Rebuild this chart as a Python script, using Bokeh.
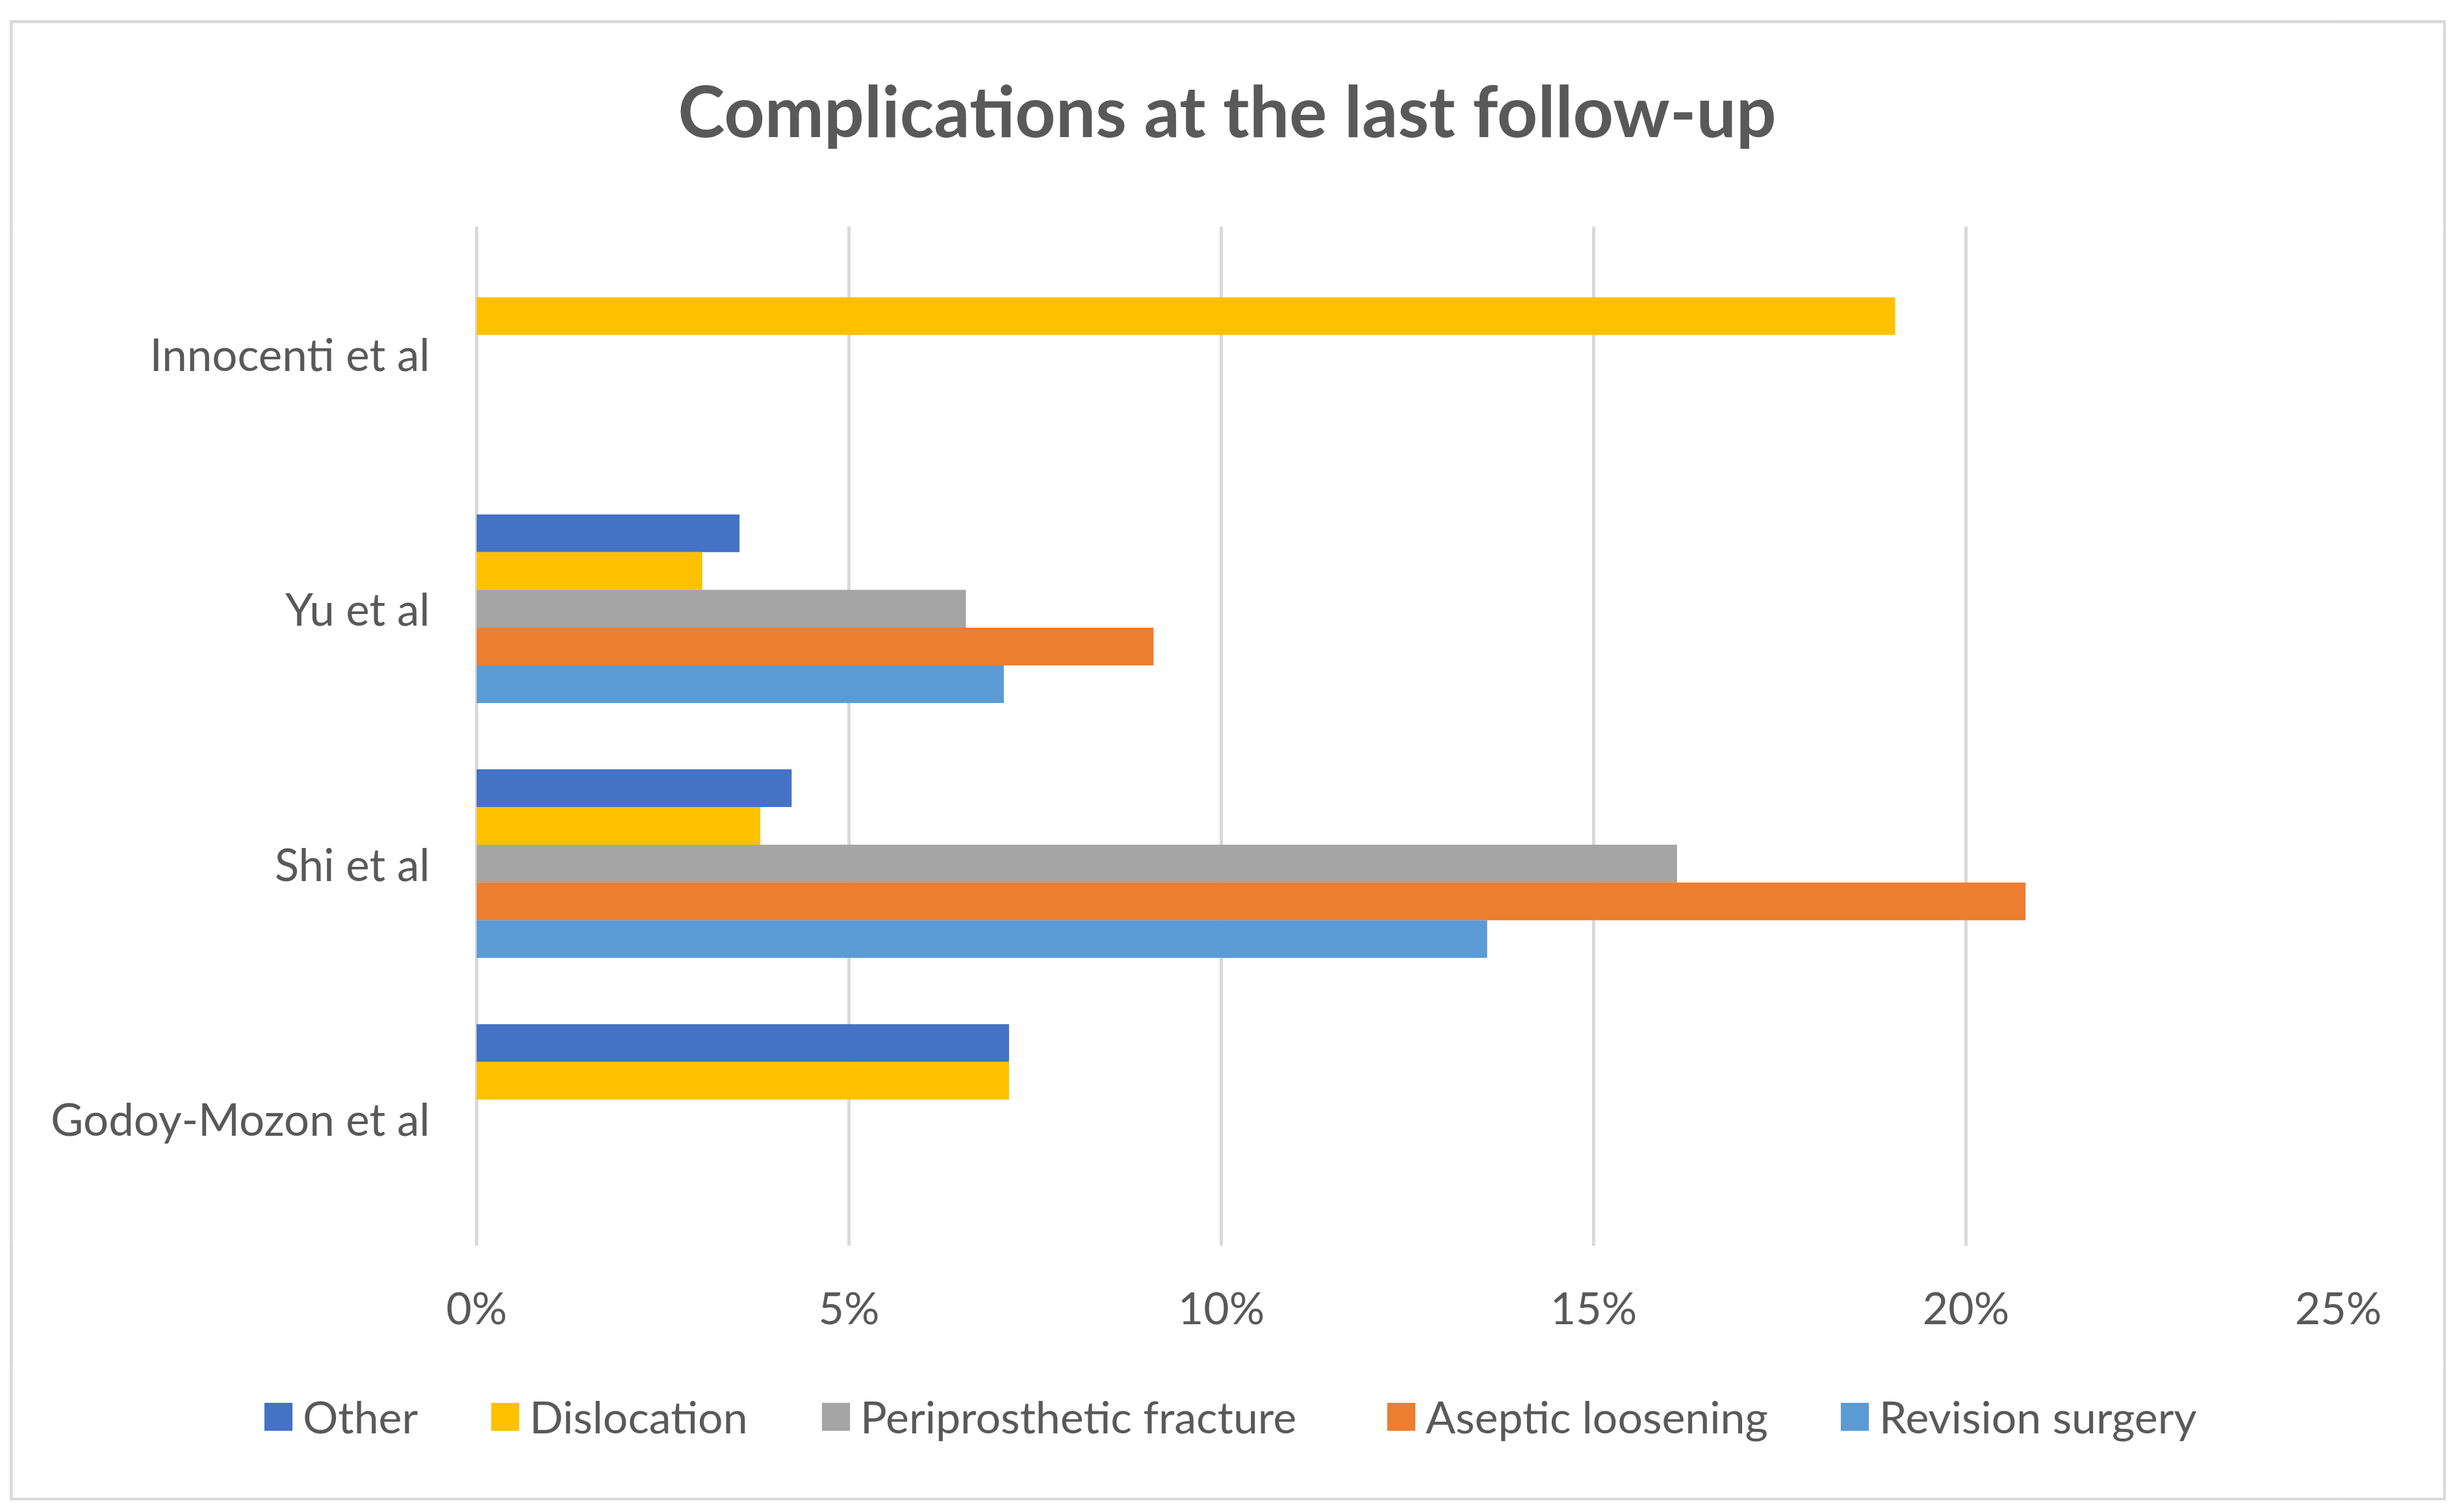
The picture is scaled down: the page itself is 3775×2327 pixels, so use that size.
from bokeh.plotting import figure
from bokeh.layouts import column
from bokeh.models import (Range1d, FactorRange, FixedTicker, NumeralTickFormatter,
                          Legend, LegendItem, Label)
from bokeh.transform import dodge
from bokeh.core.properties import value
from bokeh.embed import file_html
from bokeh.resources import INLINE

# ---- data ----
studies = ["Godoy-Mozon et al", "Shi et al", "Yu et al", "Innocenti et al"]
series = ["Other", "Dislocation", "Periprosthetic fracture", "Aseptic loosening", "Revision surgery"]
other = [0.0715, 0.0423, 0.0353, 0.0]
dislocation = [0.0715, 0.0381, 0.0303, 0.1905]
periprosthetic = [0.0, 0.1612, 0.0657, 0.0]
aseptic = [0.0, 0.2080, 0.0909, 0.0]
revision = [0.0, 0.1357, 0.0708, 0.0]
x_ticks = [0.0, 0.05, 0.10, 0.15, 0.20, 0.25]
title_text = "Complications at the last follow-up"

# ---- styles / layout ----
colors = ["#4472C4", "#FFC000", "#A5A5A5", "#ED7D31", "#5B9BD5"]
offsets = [0.296, 0.148, 0.0, -0.148, -0.296]
legend_x = [382, 731, 1240, 2110, 2808]
bar_h = 0.148
FONT = "Lato"
TXT = "#595959"
GRID = "#D9D9D9"

W = 3741
H0, H1, H2 = 313, 1749, 208
PLOT_L, FR, FRAME_H = 714, 3579, 1569   # 0% line, frame right, frame height
RB = W - FR
X_MAX = 0.25
x_start = -PLOT_L * X_MAX / (FR - PLOT_L)

data = dict(study=studies, other=other, dislocation=dislocation,
            periprosthetic=periprosthetic, aseptic=aseptic, revision=revision)
cols = ["other", "dislocation", "periprosthetic", "aseptic", "revision"]


def strip(height):
    f = figure(width=W, height=height, x_range=Range1d(x_start, X_MAX),
               y_range=FactorRange(factors=studies, range_padding=0),
               output_backend="svg", toolbar_location=None, title=None,
               x_axis_location=None, y_axis_location=None,
               min_border_left=0, min_border_right=RB,
               min_border_top=0, min_border_bottom=0)
    f.outline_line_color = None
    f.grid.visible = False
    f.border_fill_color = "white"
    f.background_fill_color = "white"
    return f


# ---- title strip ----
p0 = strip(H0)
p0.add_layout(Label(x=1869, y=H0 - 178 + 45, x_units="screen", y_units="screen",
                    text=title_text, text_align="center", text_baseline="alphabetic",
                    text_font=FONT, text_font_style="bold",
                    text_font_size="109px", text_color=TXT))

# ---- main chart ----
p = figure(width=W, height=H1, x_range=Range1d(x_start, X_MAX),
           y_range=FactorRange(factors=studies, range_padding=0),
           output_backend="svg", toolbar_location=None, title=None,
           y_axis_location=None,
           min_border_left=0, min_border_right=RB,
           min_border_top=0, min_border_bottom=H1 - FRAME_H)
p.outline_line_color = None
p.background_fill_color = "white"
p.border_fill_color = "white"

for col, off, c in zip(cols, offsets, colors):
    p.hbar(y=dodge("study", off, range=p.y_range), right=col, left=0,
           height=bar_h, source=data, fill_color=c, line_color=None)

# category labels (left of the 0% line)
p.text(x=0, y="study", text="study", source=data, x_offset=-72,
       text_align="right", text_baseline="middle",
       text_font=value(FONT), text_font_size="69px", text_color=TXT)

p.xaxis.ticker = FixedTicker(ticks=x_ticks)
p.xaxis.formatter = NumeralTickFormatter(format="0%")
p.xaxis.axis_line_color = None
p.xaxis.major_tick_line_color = None
p.xaxis.minor_tick_line_color = None
p.xaxis.major_label_text_font = FONT
p.xaxis.major_label_text_color = TXT
p.xaxis.major_label_text_font_size = "68px"
p.xaxis.major_label_standoff = 47
p.xgrid.ticker = FixedTicker(ticks=x_ticks)
p.xgrid.grid_line_color = GRID
p.xgrid.grid_line_width = 5
p.ygrid.grid_line_color = None

# ---- legend strip ----
p2 = strip(H2)
for s, col, c, lx in zip(series, cols, colors, legend_x):
    r = p2.hbar(y="study", right=col, left=0, height=bar_h, source=data,
                fill_color=c, line_color=None, visible=False)
    p2.add_layout(Legend(items=[LegendItem(label=s, renderers=[r])],
                         location=(lx, 85), glyph_width=54, glyph_height=54,
                         label_standoff=11, padding=0, margin=0,
                         border_line_color=None, background_fill_alpha=0,
                         inactive_fill_alpha=0,
                         label_text_font=FONT, label_text_color=TXT,
                         label_text_font_size="68px"), "center")

layout = column(p0, p, p2, spacing=0, margin=(35, 0, 0, 19),
                styles={"outline": "7px solid #D9D9D9", "outline-offset": "-3px"})

open("out.html", "w").write(file_html(layout, INLINE))
